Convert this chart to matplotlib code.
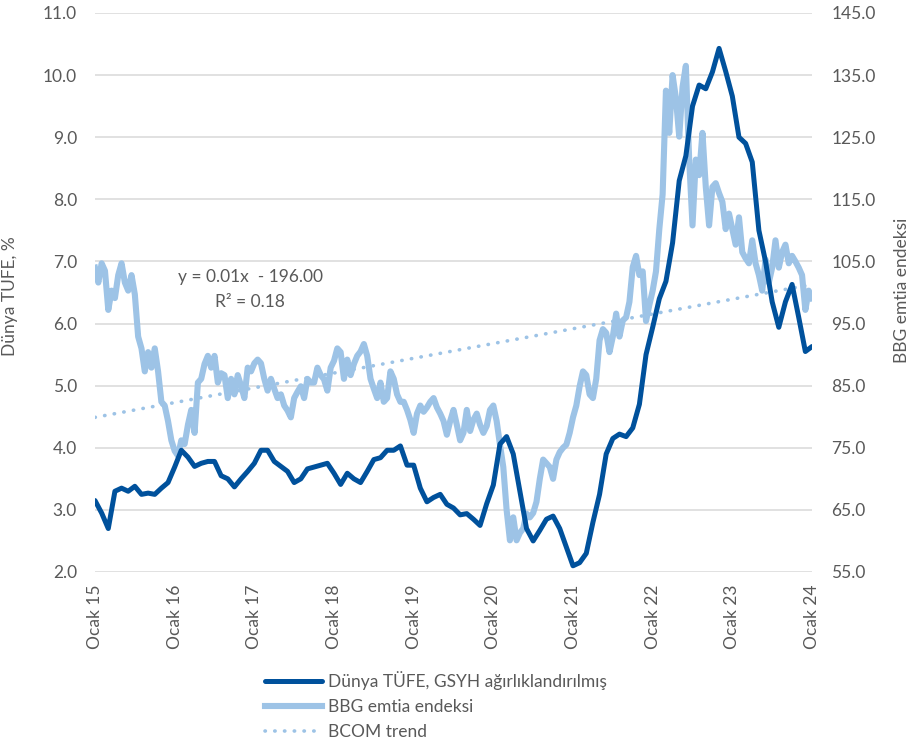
import numpy as np
import matplotlib
matplotlib.use("Agg")
import matplotlib.pyplot as plt

plt.rcParams['font.family'] = ['Lato', 'DejaVu Sans']

# Dünya TÜFE (monthly, Jan 2015 .. Jan 2024)
cpi = [
    3.15, 2.95, 2.70, 3.30, 3.35, 3.30, 3.38, 3.25, 3.27, 3.25, 3.35, 3.44,   # 2015
    3.69, 3.96, 3.85, 3.70, 3.75, 3.78, 3.78, 3.55, 3.50, 3.37, 3.50, 3.62,   # 2016
    3.75, 3.96, 3.96, 3.78, 3.70, 3.62, 3.44, 3.50, 3.66, 3.69, 3.72, 3.75,   # 2017
    3.59, 3.41, 3.59, 3.50, 3.44, 3.62, 3.81, 3.84, 3.96, 3.96, 4.03, 3.72,   # 2018
    3.72, 3.35, 3.13, 3.20, 3.25, 3.09, 3.03, 2.92, 2.94, 2.85, 2.75, 3.10,   # 2019
    3.40, 4.06, 4.18, 3.90, 3.30, 2.70, 2.50, 2.67, 2.85, 2.90, 2.70, 2.40,   # 2020
    2.10, 2.15, 2.30, 2.80, 3.25, 3.90, 4.15, 4.22, 4.18, 4.32, 4.70, 5.50,   # 2021
    5.94, 6.40, 6.68, 7.30, 8.30, 8.70, 9.50, 9.84, 9.78, 10.05, 10.43, 10.06,  # 2022
    9.66, 9.00, 8.90, 8.60, 7.50, 7.00, 6.35, 5.94, 6.35, 6.63, 6.10, 5.55,   # 2023
    5.63,
]

# BBG emtia endeksi (half-monthly, Jan 2015 .. Jan 2024)
bbg = [
    104.0, 101.6, 104.7, 103.5, 97.2, 100.3, 99.1, 102.8, 104.7, 101.6, 100.3, 102.8,
    99.7, 92.9, 91.0, 87.3, 90.4, 87.9, 91.0, 87.3, 82.4, 81.8, 79.3, 76.2,          # 2015
    74.5, 73.7, 76.2, 75.6, 78.7, 81.1, 77.4, 85.5, 86.1, 88.5, 89.8, 87.9,
    89.8, 85.5, 87.0, 86.7, 83.0, 86.1, 83.6, 86.7, 85.0, 83.0, 87.9, 87.3,          # 2016
    88.6, 89.2, 88.6, 86.1, 84.2, 86.1, 84.5, 83.0, 83.6, 81.8, 81.0, 79.9,
    83.0, 84.0, 84.9, 83.0, 86.1, 85.5, 85.5, 87.9, 86.7, 86.0, 84.2, 87.9,          # 2017
    89.0, 91.0, 90.4, 86.1, 89.2, 86.7, 88.5, 89.8, 90.5, 91.7, 89.8, 86.1,
    84.5, 83.0, 85.5, 82.4, 83.0, 87.3, 86.1, 83.6, 82.4, 82.4, 81.1, 79.5,          # 2018
    77.4, 80.5, 81.8, 80.8, 81.5, 82.4, 83.0, 81.5, 80.5, 79.3, 77.1, 79.3,
    81.1, 78.7, 76.2, 77.4, 81.1, 77.7, 79.5, 80.5, 78.7, 77.4, 78.5, 81.1,          # 2019
    81.8, 79.3, 75.5, 71.9, 65.0, 60.1, 63.8, 60.1, 61.3, 62.0, 64.4, 63.8,
    64.5, 66.3, 70.0, 73.1, 72.5, 71.9, 70.0, 73.1, 74.3, 75.0, 75.5, 77.4,          # 2020
    79.9, 81.8, 84.9, 87.3, 86.7, 83.6, 83.0, 86.1, 92.3, 94.1, 93.5, 90.4,
    92.9, 96.6, 92.9, 95.5, 96.0, 98.5, 104.1, 105.9, 102.8, 103.4, 95.4, 98.0,      # 2021
    100.3, 103.4, 110.2, 115.8, 132.5, 125.7, 135.0, 131.3, 125.1, 133.1, 136.5, 121.4,
    110.8, 121.4, 118.9, 125.7, 117.0, 110.8, 117.0, 117.6, 116.0, 114.6, 110.2, 112.7,  # 2022
    110.2, 107.7, 112.1, 106.5, 105.5, 104.7, 108.4, 104.7, 102.8, 100.3, 105.3, 101.6,
    104.0, 108.4, 104.0, 106.5, 107.7, 104.7, 105.9, 105.0, 104.0, 102.8, 97.2, 100.3,  # 2023
    99.1,
]

# BCOM linear trend, start/end values
trend = [79.9, 101.3]

years = list(range(2015, 2025))
xlabels = ["Ocak %02d" % (y % 100) for y in years]

cpi_x = 2015 + np.arange(len(cpi)) / 12
bbg_x = 2015 + np.arange(len(bbg)) / 24
trend_x = [years[0], years[-1]]

dark = '#00519C'
light = '#9DC3E6'
grey = '#595959'
fs = 12.5

fig = plt.figure(figsize=(9.08, 7.45), dpi=100)
ax = fig.add_axes([95 / 908, 1 - 572 / 745, 717 / 908, 559 / 745])
ax2 = ax.twinx()

# BBG on the lower axes, CPI drawn over it
ax2.plot(trend_x, trend, color=light, lw=2.6, linestyle=(0, (0.1, 2.6)),
         dash_capstyle='round', label='BCOM trend', zorder=2)
ax2.plot(bbg_x, bbg, color=light, lw=4.4, solid_joinstyle='round',
         label='BBG emtia endeksi', zorder=3)
ax.plot(cpi_x, cpi, color=dark, lw=3.6, solid_joinstyle='round',
        solid_capstyle='round', label='Dünya TÜFE, GSYH ağırlıklandırılmış')

ax.set_zorder(ax2.get_zorder() + 1)
ax.patch.set_visible(False)

ax.set_xlim(2015, 2024)
ax.set_ylim(2, 11)
ax2.set_ylim(55, 145)
ax.set_yticks(np.arange(2, 12, 1))
ax.set_yticklabels(["%.1f" % v for v in np.arange(2, 12, 1)])
ax2.set_yticks(np.arange(55, 150, 10))
ax2.set_yticklabels(["%.1f" % v for v in np.arange(55, 150, 10)])
ax.set_xticks(years)
ax.set_xticklabels(xlabels, rotation=90)

ax2.grid(axis='y', color='#D9D9D9', lw=1.1)
for a in (ax, ax2):
    for s in a.spines.values():
        s.set_visible(False)
    a.tick_params(length=0, labelsize=fs, labelcolor=grey)
ax.tick_params(axis='y', pad=13)
ax2.tick_params(axis='y', pad=14)
ax.tick_params(axis='x', pad=9)

ax.set_ylabel('Dünya TÜFE, %', fontsize=fs, color=grey)
ax.yaxis.set_label_coords(-0.107, 0.494)
ax2.set_ylabel('BBG emtia endeksi', fontsize=fs, color=grey)
ax2.yaxis.set_label_coords(1.114, 0.504)

ax2.text(2016.95, 102.5, 'y = 0.01x  - 196.00', fontsize=fs, color=grey,
         ha='center', va='center')
ax2.text(2016.95, 98.5, 'R² = 0.18', fontsize=fs, color=grey,
         ha='center', va='center')

h1, l1 = ax.get_legend_handles_labels()
h2, l2 = ax2.get_legend_handles_labels()
handles = h1 + [h2[1], h2[0]]
labels = l1 + [l2[1], l2[0]]
fig.legend(handles, labels, loc='center', bbox_to_anchor=(436 / 908, 1 - 706 / 745),
           frameon=False, fontsize=fs, labelcolor=grey, handlelength=3.3,
           handletextpad=0.35, labelspacing=0.52)

fig.savefig('out.png', dpi=100)
